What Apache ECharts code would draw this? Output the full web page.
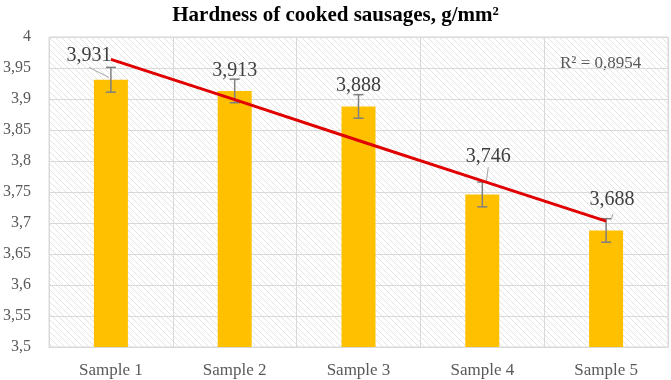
<!DOCTYPE html>
<html>
<head>
<meta charset="utf-8">
<script src="https://cdn.jsdelivr.net/npm/echarts@6/dist/echarts.min.js"></script>
<style>
html, body { margin: 0; padding: 0; background: #fff; }
#chart { width: 671px; height: 380px; }
</style>
</head>
<body>
<div id="chart"></div>
<script>
// data
var samples = ['Sample 1', 'Sample 2', 'Sample 3', 'Sample 4', 'Sample 5'];
var hardness = [3.931, 3.913, 3.888, 3.746, 3.688];
var errors = [0.02, 0.019, 0.019, 0.02, 0.019];
// linear trend line (as drawn in the picture)
var trend = [3.964, 3.899, 3.833, 3.768, 3.703];
var rSquared = 'R² = 0,8954';

// where each value label sits relative to the top of its error bar,
// plus an optional leader line (start, end) from the same point
var labelPlace = [
    { dx: -22, dy: -12, lead: [[-22, 0], [-2, 10]] },
    { dx: 0, dy: -8 },
    { dx: 0, dy: -9 },
    { dx: 6, dy: -25, lead: [[6, -15], [4, 0]] },
    { dx: 6, dy: -19, lead: [[7, -5], [5, 1]] }
];

var serif = '"Liberation Serif", "Times New Roman", serif';

function comma(v) {
    return String(v).replace('.', ',');
}

// hatched plot background
function hatch() {
    var c = document.createElement('canvas');
    c.width = 6;
    c.height = 6;
    var ctx = c.getContext('2d');
    ctx.fillStyle = '#ffffff';
    ctx.fillRect(0, 0, 6, 6);
    ctx.strokeStyle = '#e4e4e4';
    ctx.lineWidth = 1;
    ctx.beginPath();
    ctx.moveTo(-1, -1); ctx.lineTo(7, 7);
    ctx.moveTo(-4, 2); ctx.lineTo(4, 10);
    ctx.moveTo(2, -4); ctx.lineTo(10, 4);
    ctx.stroke();
    return c;
}

function renderErr(params, api) {
    var i = params.dataIndex;
    var x = api.value(0), v = api.value(1), e = api.value(2);
    var top = api.coord([x, v + e]);
    var bot = api.coord([x, v - e]);
    var st = { stroke: '#7f7f7f', lineWidth: 1.5 };
    var p = labelPlace[i];
    var kids = [
        { type: 'line', shape: { x1: top[0], y1: top[1], x2: bot[0], y2: bot[1] }, style: st },
        { type: 'line', shape: { x1: top[0] - 5, y1: top[1], x2: top[0] + 5, y2: top[1] }, style: st },
        { type: 'line', shape: { x1: bot[0] - 5, y1: bot[1], x2: bot[0] + 5, y2: bot[1] }, style: st }
    ];
    if (p.lead) {
        kids.push({
            type: 'line',
            shape: {
                x1: top[0] + p.lead[0][0], y1: top[1] + p.lead[0][1],
                x2: top[0] + p.lead[1][0], y2: top[1] + p.lead[1][1]
            },
            style: { stroke: '#a6a6a6', lineWidth: 1 }
        });
    }
    kids.push({
        type: 'text',
        x: top[0] + p.dx,
        y: top[1] + p.dy,
        z2: 10,
        style: {
            text: comma(v),
            fontFamily: serif,
            fontSize: 20,
            fill: '#404040',
            align: 'center',
            verticalAlign: 'middle'
        }
    });
    return { type: 'group', children: kids };
}

var chart = echarts.init(document.getElementById('chart'));

var option = {
    animation: false,
    title: {
        text: 'Hardness of cooked sausages, g/mm²',
        left: 'center',
        top: 0,
        textStyle: { fontFamily: serif, fontWeight: 'bold', fontSize: 21, color: '#000' }
    },
    grid: {
        left: 48,
        right: 3,
        top: 37,
        bottom: 33,
        show: true,
        borderColor: '#d9d9d9',
        borderWidth: 1,
        backgroundColor: { image: hatch(), repeat: 'repeat' }
    },
    xAxis: {
        type: 'category',
        data: samples,
        axisLine: { show: true, lineStyle: { color: '#d9d9d9' } },
        axisTick: { show: false },
        splitLine: { show: true, lineStyle: { color: '#d9d9d9' } },
        axisLabel: { fontFamily: serif, fontSize: 17, color: '#595959', margin: 15 }
    },
    yAxis: {
        type: 'value',
        min: 3.5,
        max: 4,
        interval: 0.05,
        axisLine: { show: false },
        axisTick: { show: false },
        splitLine: { lineStyle: { color: '#d9d9d9' } },
        axisLabel: {
            fontFamily: serif, fontSize: 16, color: '#595959', margin: 18,
            formatter: function (v) { return comma(+v.toFixed(2)); }
        }
    },
    graphic: [{
        type: 'text',
        left: 560,
        top: 55,
        style: { text: rSquared, fontFamily: serif, fontSize: 17, fill: '#595959' }
    }],
    series: [
        {
            type: 'bar',
            data: hardness,
            barWidth: 34,
            itemStyle: { color: '#FFC000' },
            z: 2
        },
        {
            type: 'custom',
            renderItem: renderErr,
            data: hardness.map(function (v, i) { return [i, v, errors[i]]; }),
            z: 3
        },
        {
            type: 'line',
            data: trend,
            symbol: 'none',
            lineStyle: { color: '#E00000', width: 3 },
            z: 4
        }
    ]
};

chart.setOption(option);
</script>
</body>
</html>
